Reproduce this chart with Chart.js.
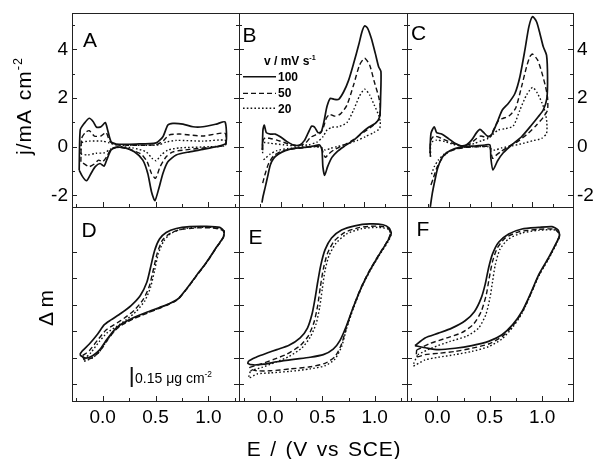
<!DOCTYPE html>
<html>
<head>
<meta charset="utf-8">
<script src="https://cdn.jsdelivr.net/npm/chart.js@4.4.1/dist/chart.umd.min.js"></script>
<style>
html, body { margin: 0; padding: 0; background: #fff; }
#fig { position: relative; width: 596px; height: 459px; overflow: hidden; font-family: "Liberation Sans", Arial, sans-serif; color: #000; }
#fig canvas { position: absolute; left: 0; top: 0; }
.t { position: absolute; white-space: nowrap; line-height: 1; }
.t sup { font-size: 0.6em; vertical-align: 0; position: relative; top: -0.7em; }
.letter { font-size: 21px; }
.leg { font-size: 12px; font-weight: bold; }
</style>
</head>
<body>
<div id="fig">
  <canvas id="cA" width="596" height="459"></canvas>
  <canvas id="cB" width="596" height="459"></canvas>
  <canvas id="cC" width="596" height="459"></canvas>
  <canvas id="cD" width="596" height="459"></canvas>
  <canvas id="cE" width="596" height="459"></canvas>
  <canvas id="cF" width="596" height="459"></canvas>

  <div class="t letter" style="left:83px;top:29px">A</div>
  <div class="t letter" style="left:242.5px;top:24px">B</div>
  <div class="t letter" style="left:411px;top:22px">C</div>
  <div class="t letter" style="left:81.5px;top:219px">D</div>
  <div class="t letter" style="left:248.5px;top:226px">E</div>
  <div class="t letter" style="left:416.5px;top:218px">F</div>

  <div class="t" style="left:23px;top:106px;font-size:21px;letter-spacing:1px;word-spacing:3px;transform:translate(-50%,-50%) rotate(-90deg)">j/mA cm<sup>-2</sup></div>
  <div class="t" style="left:44.5px;top:307.5px;font-size:21px;transform:translate(-50%,-50%) rotate(-90deg)">&Delta; m</div>
  <div class="t" style="left:324px;top:447.5px;font-size:21px;letter-spacing:0.8px;word-spacing:2px;transform:translate(-50%,-50%)">E / (V vs SCE)</div>

  <!-- legend in panel B -->
  <div class="t leg" style="left:264px;top:55px">v / mV s<sup>-1</sup></div>
  <svg style="position:absolute;left:0;top:0" width="596" height="459">
    <line x1="243" y1="76.7" x2="276" y2="76.7" stroke="#111" stroke-width="1.6"/>
    <line x1="243" y1="93.3" x2="276" y2="93.3" stroke="#111" stroke-width="1.3" stroke-dasharray="5 3"/>
    <line x1="243" y1="108.3" x2="276" y2="108.3" stroke="#111" stroke-width="1.4" stroke-dasharray="1.6 2.2"/>
    <line x1="131.7" y1="367" x2="131.7" y2="387" stroke="#111" stroke-width="2"/>
  </svg>
  <div class="t leg" style="left:278px;top:70.5px">100</div>
  <div class="t leg" style="left:278px;top:87px">50</div>
  <div class="t leg" style="left:278px;top:103px">20</div>

  <div class="t" style="left:135px;top:371px;font-size:14px">0.15 &mu;g cm<sup>-2</sup></div>
</div>

<script>
// ---- data: potential E (V vs SCE) and current j (mA cm-2) / mass change (arb.) ----
// panel A
const A_E_100 = [-0.222,-0.212,-0.174,-0.127,-0.089,-0.057,-0.016,0.025,0.047,0.079,0.127,0.316,0.506,0.57,0.617,0.665,0.76,0.854,0.949,1.076,1.158,1.165,1.076,0.949,0.823,0.696,0.617,0.57,0.532,0.494,0.462,0.427,0.38,0.30,0.206,0.127,0.079,0.038,0.013,-0.025,-0.07,-0.11,-0.152,-0.19];
const A_J_100 = [-0.96,0.69,0.96,1.17,1.03,0.80,0.82,0.99,0.69,0.21,0.11,0.11,0.16,0.41,0.89,0.96,0.93,0.82,0.82,0.93,1.02,0.14,0.0,-0.11,-0.21,-0.34,-0.62,-1.10,-1.71,-2.22,-1.85,-1.10,-0.55,-0.21,-0.04,-0.03,-0.14,-0.55,-0.80,-0.69,-0.82,-1.10,-1.40,-1.23];
const A_E_50 = [-0.206,-0.199,-0.165,-0.127,-0.079,-0.016,0.032,0.07,0.127,0.506,0.576,0.627,0.728,0.949,1.158,1.161,1.013,0.823,0.665,0.601,0.544,0.5,0.462,0.421,0.364,0.253,0.142,0.079,0.038,0.0,-0.038,-0.079,-0.127,-0.174];
const A_J_50 = [-0.62,0.34,0.58,0.66,0.44,0.44,0.58,0.21,0.08,0.08,0.25,0.48,0.52,0.44,0.55,0.07,-0.03,-0.11,-0.21,-0.41,-0.82,-1.30,-1.10,-0.62,-0.30,-0.11,-0.01,-0.11,-0.41,-0.62,-0.55,-0.71,-0.82,-0.71];
const A_E_20 = [-0.206,-0.199,-0.127,0.0,0.063,0.127,0.522,0.601,0.696,0.949,1.158,1.161,1.013,0.728,0.617,0.554,0.506,0.468,0.411,0.285,0.142,0.07,0.016,-0.063,-0.142];
const A_J_20 = [-0.30,0.16,0.23,0.23,0.16,0.07,0.07,0.19,0.26,0.23,0.27,0.05,0.0,-0.05,-0.14,-0.34,-0.58,-0.48,-0.21,-0.05,0.0,-0.11,-0.25,-0.27,-0.34];
// panel B
const B_E_100 = [-0.228,-0.22,-0.204,-0.18,-0.132,-0.072,-0.012,0.069,0.149,0.221,0.277,0.325,0.365,0.401,0.441,0.481,0.517,0.549,0.589,0.637,0.69,0.75,0.81,0.87,0.93,0.97,1.002,1.038,1.082,1.13,1.17,1.198,1.194,1.182,1.13,1.05,0.97,0.87,0.75,0.669,0.609,0.557,0.521,0.5,0.489,0.461,0.389,0.269,0.149,0.048,-0.032,-0.092,-0.132,-0.164,-0.192,-0.22,-0.232];
const B_J_100 = [-0.14,0.69,0.89,0.58,0.52,0.52,0.41,0.21,0.07,0.07,0.25,0.58,0.85,0.80,0.58,0.62,1.10,1.65,1.99,1.95,1.95,2.26,2.74,3.43,4.18,4.73,4.97,4.87,4.46,3.84,3.29,3.09,2.06,1.23,0.96,0.80,0.58,0.27,0.0,-0.21,-0.44,-0.82,-1.18,-0.82,-0.14,0.07,0.03,-0.03,-0.07,-0.16,-0.30,-0.48,-0.75,-1.23,-1.65,-2.06,-2.30];
const B_E_50 = [-0.224,-0.22,-0.192,-0.132,-0.052,0.069,0.189,0.289,0.349,0.409,0.469,0.509,0.541,0.581,0.637,0.709,0.789,0.869,0.941,1.002,1.062,1.118,1.17,1.19,1.182,1.11,1.03,0.93,0.83,0.709,0.629,0.569,0.529,0.5,0.477,0.389,0.269,0.109,-0.012,-0.092,-0.152,-0.192,-0.224];
const B_J_50 = [-0.14,0.25,0.37,0.34,0.27,0.14,0.04,0.14,0.38,0.48,0.55,0.82,1.17,1.33,1.26,1.34,1.71,2.54,3.36,3.64,3.36,2.67,2.06,1.65,1.17,0.89,0.69,0.44,0.21,0.0,-0.14,-0.30,-0.44,-0.21,0.0,0.0,-0.04,-0.11,-0.21,-0.38,-0.69,-1.10,-1.51];
const B_E_20 = [-0.224,-0.22,-0.132,0.028,0.189,0.329,0.429,0.501,0.549,0.609,0.689,0.789,0.869,0.941,1.002,1.062,1.118,1.17,1.19,1.182,1.11,1.01,0.91,0.789,0.669,0.589,0.529,0.489,0.389,0.229,0.069,-0.052,-0.132,-0.192,-0.232];
const B_J_20 = [-0.27,0.16,0.14,0.08,0.03,0.08,0.19,0.41,0.69,0.80,0.82,0.99,1.51,2.09,2.37,2.13,1.71,1.30,1.03,0.75,0.58,0.41,0.25,0.11,0.0,-0.07,-0.14,-0.04,0.0,-0.03,-0.08,-0.16,-0.30,-0.48,-0.58];
// panel C
const C_E_100 = [-0.232,-0.22,-0.18,-0.152,-0.092,-0.012,0.068,0.14,0.208,0.268,0.328,0.369,0.409,0.457,0.497,0.537,0.589,0.637,0.709,0.789,0.849,0.909,0.957,1.001,1.049,1.089,1.129,1.169,1.181,1.173,1.129,1.069,0.989,0.869,0.749,0.649,0.581,0.525,0.5,0.489,0.429,0.308,0.188,0.068,-0.032,-0.092,-0.14,-0.172,-0.204,-0.228];
const C_J_100 = [-0.27,0.55,0.82,0.58,0.52,0.34,0.14,0.04,0.08,0.27,0.58,0.71,0.60,0.44,0.44,0.69,1.12,1.51,1.78,2.19,2.88,3.98,4.94,5.35,5.14,4.66,4.12,3.77,2.88,1.99,1.51,1.23,0.89,0.41,0.07,-0.25,-0.58,-0.96,-0.48,0.07,0.07,0.03,0.0,-0.08,-0.25,-0.48,-0.89,-1.37,-1.92,-2.47];
const C_E_50 = [-0.228,-0.224,-0.18,-0.092,0.028,0.14,0.248,0.328,0.38,0.449,0.5,0.549,0.597,0.649,0.717,0.797,0.869,0.929,0.969,1.001,1.061,1.109,1.157,1.181,1.181,1.129,1.049,0.949,0.829,0.709,0.617,0.557,0.521,0.5,0.485,0.348,0.188,0.068,-0.032,-0.1,-0.152,-0.192,-0.228];
const C_J_50 = [-0.41,0.25,0.44,0.34,0.16,0.03,0.11,0.34,0.44,0.38,0.48,0.82,1.10,1.17,1.26,1.58,2.47,3.29,3.70,3.81,3.57,3.09,2.47,2.03,1.51,1.21,0.89,0.55,0.23,0.0,-0.21,-0.37,-0.48,-0.21,0.0,0.0,-0.03,-0.11,-0.27,-0.55,-0.89,-1.30,-1.65];
const C_E_20 = [-0.224,-0.22,-0.152,-0.052,0.068,0.188,0.308,0.389,0.469,0.529,0.589,0.669,0.769,0.849,0.929,1.001,1.061,1.117,1.157,1.173,1.169,1.109,1.009,0.889,0.749,0.629,0.549,0.508,0.469,0.308,0.148,0.028,-0.06,-0.132,-0.18,-0.224];
const C_J_20 = [-0.41,0.16,0.27,0.21,0.08,0.03,0.14,0.25,0.34,0.52,0.69,0.74,0.85,1.51,2.13,2.44,2.19,1.78,1.37,0.96,0.55,0.34,0.25,0.14,0.03,-0.05,-0.14,-0.11,0.0,0.0,-0.04,-0.14,-0.30,-0.55,-0.82,-1.23];
// panel D (mass change, arbitrary units; scale bar = 0.15 ug cm-2)
const D_E_100 = [-0.215,-0.19,-0.126,-0.047,0.016,0.079,0.174,0.269,0.355,0.418,0.453,0.491,0.538,0.601,0.696,0.823,0.981,1.108,1.149,1.14,1.076,0.981,0.886,0.791,0.712,0.633,0.538,0.412,0.285,0.19,0.127,0.079,0.032,-0.031,-0.095,-0.158,-0.206];
const D_M_100 = [1.13,1.26,1.51,1.89,2.24,2.42,2.67,2.96,3.33,3.84,4.40,5.03,5.47,5.72,5.87,5.94,5.95,5.91,5.76,5.53,5.16,4.59,4.09,3.58,3.21,3.04,2.89,2.70,2.49,2.29,2.11,1.89,1.64,1.28,1.07,0.98,1.07];
const D_E_50 = [-0.19,-0.126,-0.047,0.032,0.111,0.206,0.301,0.387,0.443,0.481,0.516,0.563,0.627,0.728,0.886,1.044,1.139,1.146,1.076,0.981,0.886,0.791,0.712,0.633,0.538,0.412,0.285,0.19,0.127,0.079,0.032,-0.031,-0.095,-0.174];
const D_M_50 = [1.07,1.26,1.66,2.04,2.24,2.49,2.79,3.21,3.71,4.34,4.93,5.41,5.66,5.82,5.89,5.89,5.79,5.56,5.14,4.57,4.07,3.56,3.19,3.02,2.86,2.66,2.45,2.25,2.06,1.84,1.58,1.22,1.0,0.91];
const D_E_20 = [-0.174,-0.11,-0.031,0.047,0.127,0.222,0.317,0.399,0.453,0.491,0.526,0.576,0.639,0.744,0.886,1.044,1.146,1.146,1.076,0.981,0.886,0.791,0.712,0.633,0.538,0.412,0.285,0.19,0.127,0.079,0.032,-0.031,-0.095,-0.174];
const D_M_20 = [0.94,1.19,1.61,1.95,2.16,2.42,2.74,3.14,3.65,4.28,4.91,5.38,5.66,5.84,5.91,5.91,5.81,5.58,5.15,4.58,4.08,3.57,3.20,3.03,2.87,2.67,2.46,2.26,2.07,1.85,1.59,1.22,0.99,0.86];
// panel E
const E_E_100 = [-0.206,-0.127,-0.031,0.063,0.175,0.286,0.356,0.40,0.428,0.454,0.483,0.524,0.587,0.683,0.81,0.953,1.08,1.137,1.159,1.127,1.048,0.953,0.873,0.794,0.73,0.667,0.603,0.508,0.381,0.222,0.063,-0.063,-0.158,-0.216];
const E_M_100 = [0.88,1.03,1.17,1.30,1.45,1.74,2.11,2.64,3.21,3.84,4.47,5.06,5.51,5.81,5.97,6.04,6.01,5.89,5.69,5.41,4.91,4.28,3.65,2.89,2.20,1.64,1.32,1.11,1.01,0.93,0.84,0.75,0.72,0.78];
const E_E_50 = [-0.197,-0.095,0.032,0.159,0.286,0.365,0.419,0.454,0.479,0.508,0.546,0.609,0.714,0.857,1.016,1.117,1.152,1.127,1.048,0.953,0.873,0.794,0.73,0.683,0.619,0.524,0.381,0.19,0.0,-0.127,-0.197];
const E_M_50 = [0.63,0.75,0.93,1.13,1.45,1.82,2.33,2.96,3.65,4.34,4.91,5.38,5.72,5.91,5.96,5.91,5.72,5.43,4.93,4.30,3.67,2.89,2.14,1.51,1.03,0.78,0.65,0.57,0.50,0.50,0.57];
const E_E_20 = [-0.19,-0.079,0.048,0.175,0.302,0.381,0.438,0.473,0.498,0.524,0.562,0.629,0.73,0.873,1.032,1.127,1.156,1.13,1.048,0.953,0.873,0.794,0.73,0.683,0.619,0.524,0.381,0.19,0.0,-0.127,-0.206];
const E_M_20 = [0.50,0.63,0.82,1.03,1.36,1.76,2.26,2.89,3.58,4.28,4.84,5.31,5.66,5.86,5.91,5.85,5.64,5.38,4.88,4.25,3.62,2.83,2.08,1.41,0.94,0.69,0.57,0.48,0.42,0.38,0.23];
// panel F
const F_E_100 = [-0.214,-0.118,0.01,0.138,0.265,0.355,0.419,0.457,0.489,0.527,0.585,0.681,0.808,0.968,1.095,1.153,1.166,1.143,1.063,0.968,0.888,0.808,0.719,0.617,0.489,0.329,0.169,0.01,-0.102];
const F_M_100 = [1.45,1.74,1.92,2.11,2.39,2.74,3.25,3.77,4.38,4.91,5.35,5.66,5.85,5.91,5.94,5.81,5.60,5.38,4.78,4.13,3.40,2.74,2.24,1.86,1.61,1.45,1.35,1.30,1.36];
const F_E_50 = [-0.198,-0.07,0.09,0.233,0.345,0.419,0.467,0.495,0.527,0.572,0.648,0.776,0.968,1.121,1.166,1.143,1.063,0.968,0.888,0.808,0.719,0.617,0.489,0.329,0.169,0.01,-0.118,-0.198];
const F_M_50 = [1.28,1.53,1.74,1.94,2.26,2.74,3.37,4.0,4.63,5.13,5.51,5.74,5.84,5.84,5.64,5.38,4.75,4.10,3.37,2.70,2.19,1.79,1.51,1.35,1.23,1.16,1.11,1.03];
const F_E_20 = [-0.188,-0.054,0.122,0.281,0.393,0.463,0.502,0.527,0.553,0.598,0.681,0.808,0.968,1.127,1.169,1.146,1.063,0.968,0.888,0.808,0.719,0.617,0.489,0.329,0.169,0.01,-0.118,-0.23];
const F_M_20 = [1.11,1.36,1.61,1.81,2.11,2.62,3.25,3.87,4.50,5.09,5.48,5.70,5.80,5.81,5.61,5.36,4.73,4.08,3.35,2.67,2.14,1.70,1.41,1.23,1.11,1.01,0.91,0.69];

// tick values
const xTicksLabels = [0, 0.5, 1.0];
const xTicksMinor = [-0.5, -0.25, 0.25, 0.75, 1.25];
const jTicksLabels = [-2, 0, 2, 4];
const jTicksMinor = [-1, 1, 3, 5];
const mTicks = [0, 1, 2, 3, 4, 5];

const FONT = '"Liberation Sans", Arial, sans-serif';
const INK = '#111';
const lineStyles = [
  { borderDash: [], borderWidth: 1.7 },
  { borderDash: [5, 3], borderWidth: 1.4 },
  { borderDash: [1.6, 2.2], borderWidth: 1.4 }
];
const Y_AXIS_W = 40;   // room for the j tick labels
const X_AXIS_H = 32;   // room for the E tick labels

function pts(xs, ys, close) {
  const out = xs.map((x, i) => ({ x: x, y: ys[i] }));
  if (close) out.push({ x: xs[0], y: ys[0] });
  return out;
}

// frame + inward ticks, positions come from the chart scales
const framePlugin = {
  id: 'frame',
  afterDraw(chart, args, o) {
    const { ctx, chartArea: ca } = chart;
    const xs = chart.scales.x, ys = chart.scales.y;
    ctx.save();
    ctx.strokeStyle = '#222';
    ctx.lineWidth = 1;
    ctx.strokeRect(ca.left + 0.5, ca.top + 0.5, ca.right - ca.left, ca.bottom - ca.top);
    ctx.beginPath();
    o.xMajor.concat(o.xMinor).forEach(function(v) {
      const px = xs.getPixelForValue(v);
      if (px < ca.left + 1 || px > ca.right - 1) return;
      const len = o.xMajor.indexOf(v) >= 0 ? 5 : 3;
      ctx.moveTo(Math.round(px) + 0.5, ca.bottom);
      ctx.lineTo(Math.round(px) + 0.5, ca.bottom - len);
    });
    o.yMajor.concat(o.yMinor).forEach(function(v) {
      const py = ys.getPixelForValue(v);
      if (py < ca.top + 1 || py > ca.bottom - 1) return;
      const len = o.yMajor.indexOf(v) >= 0 ? 5 : 3;
      const yy = Math.round(py) + 0.5;
      ctx.moveTo(ca.left, yy); ctx.lineTo(ca.left + len, yy);
      ctx.moveTo(ca.right, yy); ctx.lineTo(ca.right - len, yy);
    });
    ctx.stroke();
    ctx.restore();
  }
};

function makePanel(id, rect, xr, yr, curves, opt) {
  const datasets = curves.map(function(c, i) {
    return {
      label: ['100', '50', '20'][i],
      data: pts(c[0], c[1], opt.close),
      showLine: true,
      pointRadius: 0,
      borderColor: INK,
      borderWidth: lineStyles[i].borderWidth,
      borderDash: lineStyles[i].borderDash,
      tension: 0.22,
      fill: false
    };
  });
  const showX = opt.row === 1;
  const yPos = opt.yPos || 'left';
  const yW = opt.yPos ? (yPos === 'right' ? 23 : Y_AXIS_W) : 0;
  const pad = { left: rect[0], top: rect[1], right: 596 - rect[2], bottom: 459 - rect[3] };
  if (opt.yPos === 'left') pad.left -= yW;
  if (opt.yPos === 'right') pad.right -= yW;
  if (showX) pad.bottom -= X_AXIS_H;
  const clearPad = function(s) { s.paddingTop = 0; s.paddingBottom = 0; s.paddingLeft = 0; s.paddingRight = 0; };
  new Chart(document.getElementById(id), {
    type: 'scatter',
    data: { datasets: datasets },
    options: {
      responsive: false,
      animation: false,
      devicePixelRatio: 1,
      events: [],
      layout: { padding: pad },
      plugins: {
        legend: { display: false },
        tooltip: { enabled: false },
        frame: {
          xMajor: xTicksLabels, xMinor: xTicksMinor,
          yMajor: opt.row === 0 ? jTicksLabels : mTicks,
          yMinor: opt.row === 0 ? jTicksMinor : []
        }
      },
      scales: {
        x: {
          type: 'linear', min: xr[0], max: xr[1],
          display: showX,
          position: 'bottom',
          grid: { display: false, drawTicks: false },
          border: { display: false },
          ticks: { font: { family: FONT, size: 19 }, color: '#000', padding: 5, maxRotation: 0,
                   callback: function(v) { return Number(v).toFixed(1); } },
          afterBuildTicks: function(s) { s.ticks = xTicksLabels.map(v => ({ value: v })); },
          afterFit: function(s) { s.height = showX ? X_AXIS_H : 0; clearPad(s); }
        },
        y: {
          type: 'linear', min: yr[0], max: yr[1],
          display: !!opt.yPos,
          position: yPos,
          grid: { display: false, drawTicks: false },
          border: { display: false },
          ticks: { font: { family: FONT, size: 19 }, color: '#000', padding: yPos === 'right' ? 4 : 4 },
          afterBuildTicks: function(s) { s.ticks = jTicksLabels.map(v => ({ value: v })); },
          afterFit: function(s) { s.width = yW; clearPad(s); }
        }
      }
    },
    plugins: [framePlugin]
  });
}

const J_RANGE = [-2.48, 5.5];
const M_RANGE = [-0.64, 6.68];

makePanel('cA', [72, 13, 239, 207], [-0.29, 1.29], J_RANGE,
  [[A_E_100, A_J_100], [A_E_50, A_J_50], [A_E_20, A_J_20]], { row: 0, yPos: 'left', close: true });
makePanel('cB', [239, 13, 407, 207], [-0.508, 1.511], J_RANGE,
  [[B_E_100, B_J_100], [B_E_50, B_J_50], [B_E_20, B_J_20]], { row: 0, close: false });
makePanel('cC', [407, 13, 573, 207], [-0.508, 1.487], J_RANGE,
  [[C_E_100, C_J_100], [C_E_50, C_J_50], [C_E_20, C_J_20]], { row: 0, yPos: 'right', close: false });
makePanel('cD', [72, 207, 239, 401], [-0.29, 1.29], M_RANGE,
  [[D_E_100, D_M_100], [D_E_50, D_M_50], [D_E_20, D_M_20]], { row: 1, close: true });
makePanel('cE', [239, 207, 407, 401], [-0.3, 1.31], M_RANGE,
  [[E_E_100, E_M_100], [E_E_50, E_M_50], [E_E_20, E_M_20]], { row: 1, close: true });
makePanel('cF', [407, 207, 573, 401], [-0.29, 1.295], M_RANGE,
  [[F_E_100, F_M_100], [F_E_50, F_M_50], [F_E_20, F_M_20]], { row: 1, close: true });
</script>
</body>
</html>
